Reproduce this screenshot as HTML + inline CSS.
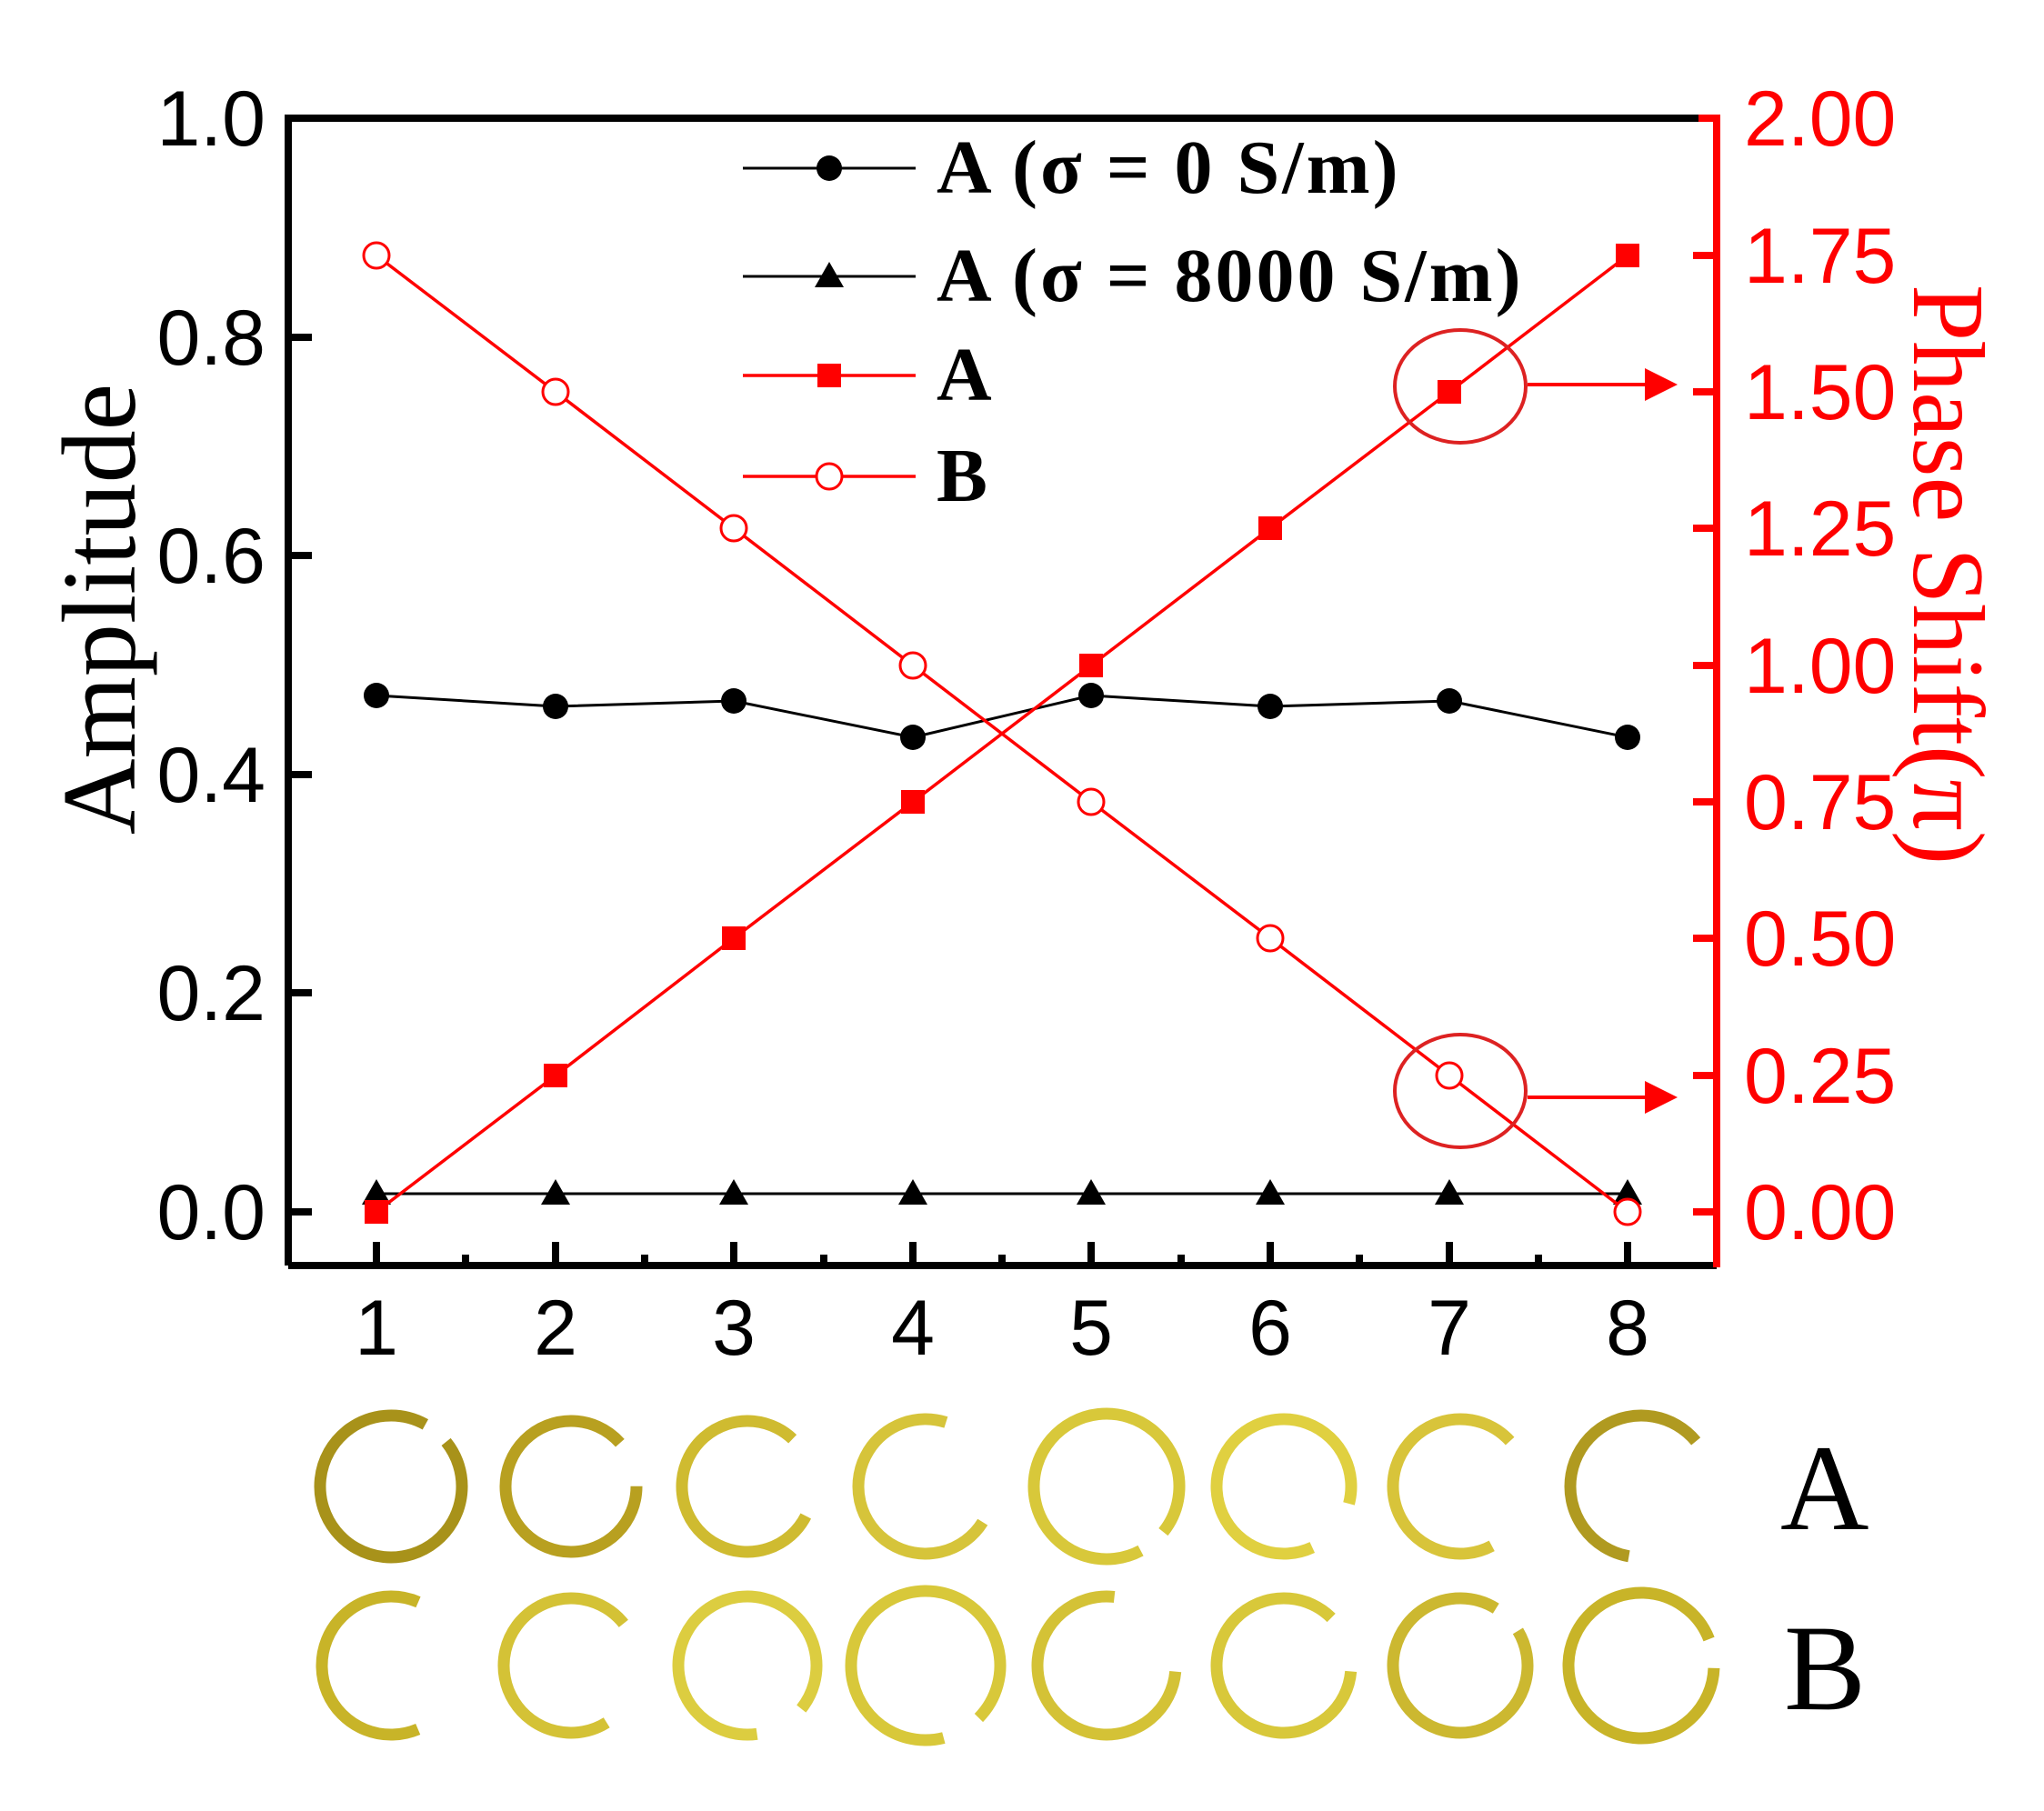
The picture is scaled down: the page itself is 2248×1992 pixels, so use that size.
<!DOCTYPE html>
<html><head><meta charset="utf-8"><style>
html,body{margin:0;padding:0;background:#fff}
svg{display:block}
</style></head><body>
<svg xmlns="http://www.w3.org/2000/svg" width="2248" height="1992" viewBox="0 0 2248 1992">
<rect width="2248" height="1992" fill="#fff"/>
<g stroke="#000" stroke-width="8" fill="none">
<path d="M317 1392 V130 H1888"/>
<path d="M317 1392 H1888"/>
<path d="M317 1333h26M317 1092h26M317 852h26M317 611h26M317 371h26"/>
<path d="M414 1392v-26M611 1392v-26M807 1392v-26M1004 1392v-26M1200 1392v-26M1397 1392v-26M1594 1392v-26M1790 1392v-26"/>
<path d="M512 1392v-12M709 1392v-12M906 1392v-12M1102 1392v-12M1299 1392v-12M1495 1392v-12M1692 1392v-12"/>
</g>
<g stroke="#f00" stroke-width="8" fill="none">
<path d="M1888 126 V1394"/>
<path d="M1888 1333h-26M1888 1183h-26M1888 1032h-26M1888 882h-26M1888 732h-26M1888 581h-26M1888 431h-26M1888 281h-26M1888 130h-20"/>
</g>
<g font-family="Liberation Sans, sans-serif" font-size="86" fill="#000" text-anchor="end">
<text x="292" y="1363">0.0</text><text x="292" y="1122">0.2</text><text x="292" y="882">0.4</text>
<text x="292" y="641">0.6</text><text x="292" y="401">0.8</text><text x="292" y="160">1.0</text>
</g>
<g font-family="Liberation Sans, sans-serif" font-size="86" fill="#000" text-anchor="middle">
<text x="414" y="1490">1</text><text x="611" y="1490">2</text><text x="807" y="1490">3</text><text x="1004" y="1490">4</text>
<text x="1200" y="1490">5</text><text x="1397" y="1490">6</text><text x="1594" y="1490">7</text><text x="1790" y="1490">8</text>
</g>
<g font-family="Liberation Sans, sans-serif" font-size="86" fill="#f00">
<text x="1918" y="1363">0.00</text><text x="1918" y="1213">0.25</text><text x="1918" y="1062">0.50</text>
<text x="1918" y="912">0.75</text><text x="1918" y="762">1.00</text><text x="1918" y="611">1.25</text>
<text x="1918" y="461">1.50</text><text x="1918" y="311">1.75</text><text x="1918" y="160">2.00</text>
</g>
<text transform="translate(148,670) rotate(-90)" text-anchor="middle" font-family="Liberation Serif, serif" font-size="116" fill="#000">Amplitude</text>
<text transform="translate(2105,632) rotate(90)" text-anchor="middle" font-family="Liberation Serif, serif" font-size="112" fill="#f00">Phase Shift(π)</text>
<polyline fill="none" stroke="#000" stroke-width="3" points="414,765 611,777 807,771 1004,811 1200,765 1397,777 1594,771 1790,811"/>
<g fill="#000">
<circle cx="414" cy="765" r="14"/><circle cx="611" cy="777" r="14"/><circle cx="807" cy="771" r="14"/><circle cx="1004" cy="811" r="14"/>
<circle cx="1200" cy="765" r="14"/><circle cx="1397" cy="777" r="14"/><circle cx="1594" cy="771" r="14"/><circle cx="1790" cy="811" r="14"/>
</g>
<polyline fill="none" stroke="#000" stroke-width="3" points="414,1313 1790,1313"/>
<g fill="#000">
<path d="M414 1297l16 28h-32z"/><path d="M611 1297l16 28h-32z"/><path d="M807 1297l16 28h-32z"/><path d="M1004 1297l16 28h-32z"/>
<path d="M1200 1297l16 28h-32z"/><path d="M1397 1297l16 28h-32z"/><path d="M1594 1297l16 28h-32z"/><path d="M1790 1297l16 28h-32z"/>
</g>
<polyline fill="none" stroke="#f00" stroke-width="3.5" points="414,1333 611,1183 807,1032 1004,882 1200,732 1397,581 1594,431 1790,281"/>
<g fill="#f00">
<rect x="401" y="1320" width="26" height="26"/><rect x="598" y="1170" width="26" height="26"/><rect x="794" y="1019" width="26" height="26"/><rect x="991" y="869" width="26" height="26"/>
<rect x="1187" y="719" width="26" height="26"/><rect x="1384" y="568" width="26" height="26"/><rect x="1581" y="418" width="26" height="26"/><rect x="1777" y="268" width="26" height="26"/>
</g>
<polyline fill="none" stroke="#f00" stroke-width="3.5" points="414,281 611,431 807,581 1004,732 1200,882 1397,1032 1594,1183 1790,1333"/>
<g fill="#fff" stroke="#f00" stroke-width="3">
<circle cx="414" cy="281" r="14"/><circle cx="611" cy="431" r="14"/><circle cx="807" cy="581" r="14"/><circle cx="1004" cy="732" r="14"/>
<circle cx="1200" cy="882" r="14"/><circle cx="1397" cy="1032" r="14"/><circle cx="1594" cy="1183" r="14"/><circle cx="1790" cy="1333" r="14"/>
</g>
<g stroke="#d22" stroke-width="4" fill="none">
<ellipse cx="1606" cy="425" rx="72" ry="62"/>
<ellipse cx="1606" cy="1200" rx="72" ry="62"/>
</g>
<g stroke="#f00" stroke-width="4"><path d="M1680 423H1815M1680 1207H1815"/></g>
<g fill="#f00"><path d="M1845 423l-36-18v36z"/><path d="M1845 1207l-36-18v36z"/></g>
<g stroke="#000" stroke-width="3"><path d="M817 185H1007M817 304H1007"/></g>
<circle cx="912" cy="185" r="14" fill="#000"/>
<path d="M912 288l16 28h-32z" fill="#000"/>
<g stroke="#f00" stroke-width="3.5"><path d="M817 413H1007M817 524H1007"/></g>
<rect x="899" y="400" width="26" height="26" fill="#f00"/>
<circle cx="912" cy="524" r="14" fill="#fff" stroke="#f00" stroke-width="3"/>
<g font-family="Liberation Serif, serif" font-weight="bold" font-size="84" fill="#000" letter-spacing="3">
<text x="1030" y="212">A (σ = 0 S/m)</text>
<text x="1030" y="331">A (σ = 8000 S/m)</text>
<text x="1030" y="440">A</text>
<text x="1030" y="551">B</text>
</g>
<g fill="none" stroke-width="13" stroke-linecap="butt">
<circle cx="430" cy="1635" r="78" stroke="#a8921a" stroke-dasharray="460 30" transform="rotate(-39 430 1635)"/>
<circle cx="628" cy="1635" r="72" stroke="#b8a020" stroke-dasharray="400 52" transform="rotate(0 628 1635)"/>
<circle cx="822" cy="1635" r="72" stroke="#cfbb30" stroke-dasharray="360 92" transform="rotate(27 822 1635)"/>
<circle cx="1018" cy="1635" r="74" stroke="#d6c43a" stroke-dasharray="330 135" transform="rotate(32 1018 1635)"/>
<circle cx="1217" cy="1635" r="80" stroke="#d8c83a" stroke-dasharray="470 33" transform="rotate(62 1217 1635)"/>
<circle cx="1412" cy="1635" r="74" stroke="#e0d040" stroke-dasharray="400 65" transform="rotate(65 1412 1635)"/>
<circle cx="1606" cy="1635" r="74" stroke="#d8c43a" stroke-dasharray="330 135" transform="rotate(62 1606 1635)"/>
<circle cx="1805" cy="1635" r="78" stroke="#b09a20" stroke-dasharray="300 190" transform="rotate(100 1805 1635)"/>
<circle cx="430" cy="1832" r="76" stroke="#c8b428" stroke-dasharray="300 178" transform="rotate(67 430 1832)"/>
<circle cx="628" cy="1832" r="74" stroke="#d4c236" stroke-dasharray="340 125" transform="rotate(58 628 1832)"/>
<circle cx="822" cy="1832" r="76" stroke="#dccd40" stroke-dasharray="420 58" transform="rotate(82 822 1832)"/>
<circle cx="1018" cy="1832" r="82" stroke="#d8c83a" stroke-dasharray="470 45" transform="rotate(76 1018 1832)"/>
<circle cx="1217" cy="1832" r="76" stroke="#d4c236" stroke-dasharray="360 118" transform="rotate(5 1217 1832)"/>
<circle cx="1412" cy="1832" r="74" stroke="#d8c83a" stroke-dasharray="400 65" transform="rotate(5 1412 1832)"/>
<circle cx="1606" cy="1832" r="74" stroke="#ccb830" stroke-dasharray="430 35" transform="rotate(-31 1606 1832)"/>
<circle cx="1805" cy="1832" r="80" stroke="#c8b428" stroke-dasharray="470 33" transform="rotate(2 1805 1832)"/>
</g>
<g font-family="Liberation Serif, serif" font-size="135" fill="#000">
<text x="1958" y="1682">A</text>
<text x="1962" y="1880">B</text>
</g>
</svg>
</body></html>
